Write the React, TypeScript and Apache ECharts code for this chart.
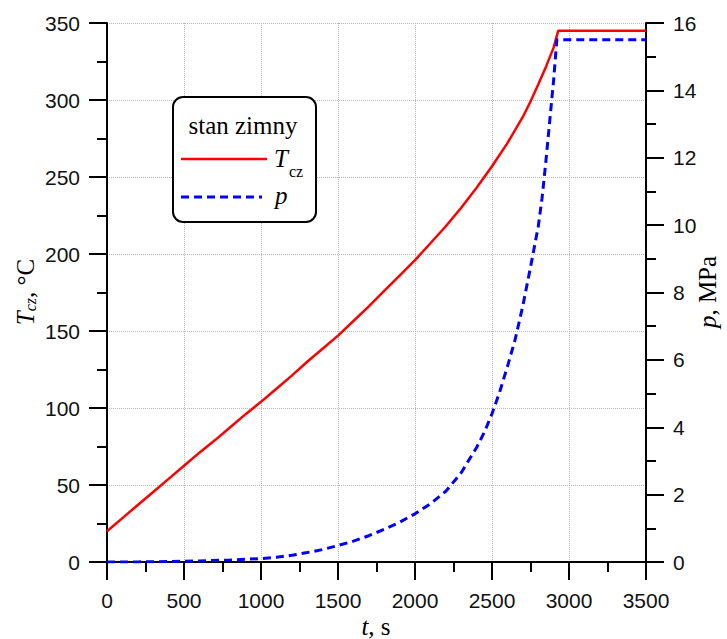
import React, { useEffect, useRef } from "react";
import * as echarts from "echarts";

const timeT = [0, 100, 200, 300, 400, 500, 600, 700, 800, 900, 1000, 1100, 1200, 1300, 1400, 1500, 1600, 1700, 1800, 1900, 2000, 2100, 2200, 2300, 2400, 2500, 2600, 2700, 2750, 2800, 2850, 2900, 2930, 3500];
const tempT = [20, 28.5, 37, 45.5, 54, 62.5, 71, 79, 87.5, 96, 104, 112.5, 121, 130, 138.5, 147, 156.5, 166, 176, 186, 196, 207, 218, 230, 243, 257, 272, 289, 299, 310, 321.5, 334, 345, 345];

const timeP = [0, 200, 400, 600, 800, 1000, 1100, 1200, 1300, 1400, 1500, 1600, 1700, 1800, 1900, 2000, 2100, 2200, 2300, 2400, 2450, 2500, 2550, 2600, 2650, 2700, 2750, 2800, 2825, 2850, 2875, 2900, 2921, 3500];
const pressP = [0, 0.003, 0.012, 0.03, 0.06, 0.1, 0.14, 0.2, 0.28, 0.37, 0.49, 0.62, 0.78, 0.97, 1.18, 1.43, 1.73, 2.1, 2.65, 3.4, 3.85, 4.4, 5.05, 5.8, 6.6, 7.6, 8.75, 9.95, 10.8, 11.9, 13.1, 14.3, 15.5, 15.5];

const legendTitle = "stan zimny";

const serif = "'Liberation Serif', 'Times New Roman', serif";
const sans = "'Liberation Sans', Arial, sans-serif";

export default function App() {
  const ref = useRef<HTMLDivElement>(null);

  useEffect(() => {
    if (!ref.current) return;
    const chart = echarts.init(ref.current, null, { renderer: "svg" });

    const axisLine = { show: true, lineStyle: { color: "#000", width: 2 } };
    const axisTick = { show: true, length: 18, lineStyle: { color: "#000", width: 2 } };
    const minorTick = { show: true, splitNumber: 2, length: 10, lineStyle: { color: "#000", width: 2 } };
    const axisLabel = (margin: number) => ({
      margin,
      fontFamily: sans,
      fontSize: 21,
      color: "#111",
      formatter: (v: number) => String(v),
    });
    const splitLine = { show: true, lineStyle: { color: "#b8b8b8", width: 1, type: [1, 1] } };

    chart.setOption({
      animation: false,
      backgroundColor: "#fff",
      grid: { left: 107, right: 81, top: 23, bottom: 77, containLabel: false },
      xAxis: {
        type: "value",
        min: 0,
        max: 3500,
        interval: 500,
        axisLine,
        axisTick,
        minorTick,
        axisLabel: axisLabel(28),
        splitLine,
      },
      yAxis: [
        {
          type: "value",
          position: "left",
          min: 0,
          max: 350,
          interval: 50,
          axisLine,
          axisTick,
          minorTick,
          axisLabel: axisLabel(27),
          splitLine,
        },
        {
          type: "value",
          position: "right",
          min: 0,
          max: 16,
          interval: 2,
          axisLine,
          axisTick,
          minorTick,
          axisLabel: axisLabel(27),
          splitLine: { show: false },
        },
      ],
      series: [
        {
          type: "line",
          name: "Tcz",
          yAxisIndex: 0,
          data: timeT.map((t, i) => [t, tempT[i]]),
          showSymbol: false,
          smooth: false,
          lineStyle: { color: "#ff0000", width: 2.5 },
          z: 3,
        },
        {
          type: "line",
          name: "p",
          yAxisIndex: 1,
          data: timeP.map((t, i) => [t, pressP[i]]),
          showSymbol: false,
          smooth: false,
          lineStyle: { color: "#0000ff", width: 3, type: [8, 5] },
          z: 4,
        },
      ],
      graphic: [
        {
          type: "text",
          x: 25,
          y: 292,
          rotation: Math.PI / 2,
          style: {
            text: "{i|T}{s|cz}{n|, °C}",
            align: "center",
            verticalAlign: "middle",
            fill: "#000",
            rich: {
              i: { fontFamily: serif, fontSize: 25, fontStyle: "italic", fill: "#000" },
              s: { fontFamily: serif, fontSize: 16, fontStyle: "italic", fill: "#000", padding: [10, 0, 0, 0] },
              n: { fontFamily: serif, fontSize: 25, fill: "#000" },
            },
          },
        },
        {
          type: "text",
          x: 707,
          y: 292,
          rotation: Math.PI / 2,
          style: {
            text: "{i|p}{n|, MPa}",
            align: "center",
            verticalAlign: "middle",
            fill: "#000",
            rich: {
              i: { fontFamily: serif, fontSize: 25, fontStyle: "italic", fill: "#000" },
              n: { fontFamily: serif, fontSize: 25, fill: "#000" },
            },
          },
        },
        {
          type: "text",
          x: 376,
          y: 626,
          style: {
            text: "{i|t}{n|, s}",
            align: "center",
            verticalAlign: "middle",
            fill: "#000",
            rich: {
              i: { fontFamily: serif, fontSize: 25, fontStyle: "italic", fill: "#000" },
              n: { fontFamily: serif, fontSize: 25, fill: "#000" },
            },
          },
        },
        {
          type: "rect",
          shape: { x: 173, y: 97, width: 143, height: 125, r: 10 },
          style: { fill: "#fff", stroke: "#000", lineWidth: 2 },
          z: 10,
        },
        {
          type: "text",
          x: 243,
          y: 125,
          z: 11,
          style: {
            text: legendTitle,
            align: "center",
            verticalAlign: "middle",
            fontFamily: serif,
            fontSize: 25,
            fill: "#000",
          },
        },
        {
          type: "line",
          z: 11,
          shape: { x1: 181, y1: 159, x2: 267, y2: 159 },
          style: { stroke: "#ff0000", lineWidth: 2.5 },
        },
        {
          type: "text",
          x: 274,
          y: 158,
          z: 11,
          style: {
            text: "T",
            align: "left",
            verticalAlign: "middle",
            fontFamily: serif,
            fontSize: 25,
            fontStyle: "italic",
            fill: "#000",
          },
        },
        {
          type: "text",
          x: 289,
          y: 171,
          z: 11,
          style: {
            text: "cz",
            align: "left",
            verticalAlign: "middle",
            fontFamily: serif,
            fontSize: 16,
            fill: "#000",
          },
        },
        {
          type: "line",
          z: 11,
          shape: { x1: 181, y1: 197, x2: 262, y2: 197 },
          style: { stroke: "#0000ff", lineWidth: 3, lineDash: [8, 5] },
        },
        {
          type: "text",
          x: 275,
          y: 195,
          z: 11,
          style: {
            text: "p",
            align: "left",
            verticalAlign: "middle",
            fontFamily: serif,
            fontSize: 25,
            fontStyle: "italic",
            fill: "#000",
          },
        },
      ],
    });

    return () => chart.dispose();
  }, []);

  return (
    <div
      ref={ref}
      style={{ position: "fixed", left: 0, top: 0, width: 727, height: 639, background: "#fff" }}
    />
  );
}
